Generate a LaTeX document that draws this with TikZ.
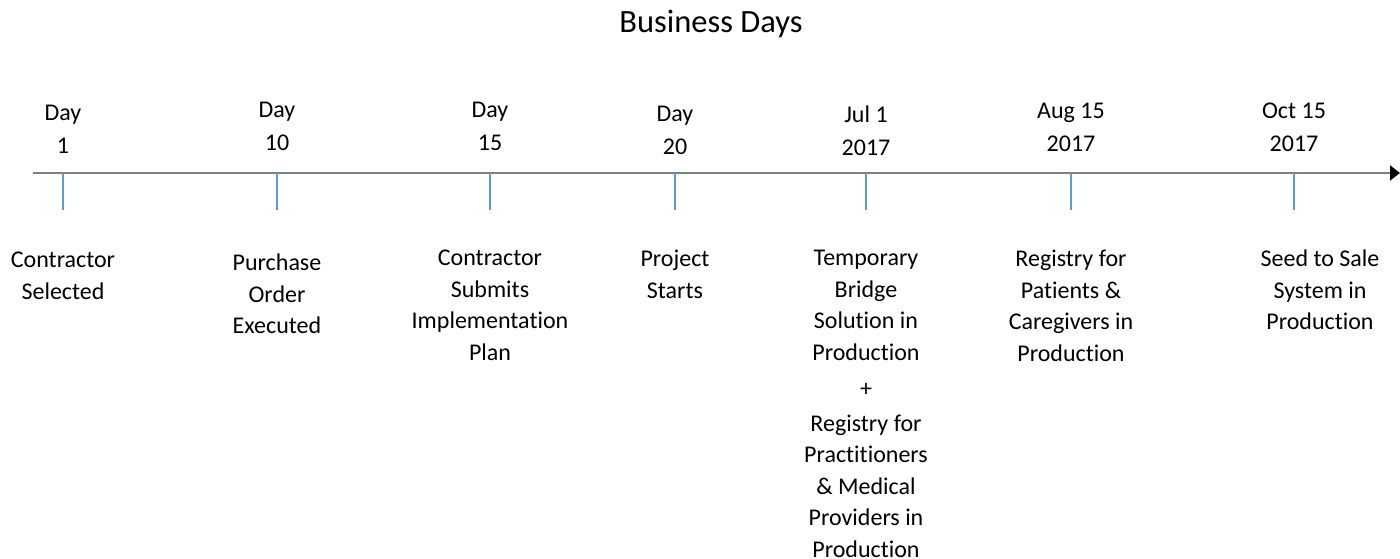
\documentclass[tikz,border=0pt]{standalone}
\usepackage{fontspec}
\setmainfont{Carlito}[Ligatures=NoCommon]
\usetikzlibrary{arrows.meta}
\definecolor{axis-gray}{HTML}{808080}
\definecolor{tick-blue}{HTML}{5B9BD5}
\tikzset{
  datelabel/.style={align=center, inner sep=0pt, anchor=north, font=\fontsize{24}{33}\selectfont},
  eventlabel/.style={align=center, inner sep=0pt, anchor=north, font=\fontsize{24}{31.5}\selectfont},
  tickmark/.style={line width=2pt, color=tick-blue}
}

\begin{document}
\begin{tikzpicture}[x=1pt,y=-1pt]
\useasboundingbox (0,0) rectangle (1400,559);
\node[anchor=north, inner sep=0pt, font=\fontsize{32.5}{38}\selectfont] (title) at (711,10) {Business Days};
% time axis
\coordinate (axis-start) at (33,173);
\coordinate (axis-end) at (1400,173);
\draw[line width=2pt, color=axis-gray, -{Triangle[length=10pt,width=15pt,color=black]}] (axis-start) -- (axis-end);
\draw[tickmark] (63,173) -- (63,210);
\draw[tickmark] (277,173) -- (277,210);
\draw[tickmark] (490,173) -- (490,210);
\draw[tickmark] (675,173) -- (675,210);
\draw[tickmark] (866,173) -- (866,210);
\draw[tickmark] (1071,173) -- (1071,210);
\draw[tickmark] (1294,173) -- (1294,210);
% dates
\node[datelabel] (day1) at (63,105) {Day\\1};
\node[datelabel] (day10) at (277,102) {Day\\10};
\node[datelabel] (day15) at (490,102) {Day\\15};
\node[datelabel] (day20) at (675,106) {Day\\20};
\node[datelabel] (jul1) at (866,106) {Jul 1\\2017};
\node[datelabel] (aug15) at (1071,103) {Aug 15\\2017};
\node[datelabel] (oct15) at (1294,103) {Oct 15\\2017};
% events
\node[eventlabel] (selected) at (63,252) {Contractor\\Selected};
\node[eventlabel] (order) at (277,254) {Purchase\\Order\\Executed};
\node[eventlabel] (plan) at (490,250) {Contractor\\Submits\\Implementation\\Plan};
\node[eventlabel] (starts) at (675,250) {Project\\Starts};
\node[eventlabel] (bridge) at (866,250) {Temporary\\Bridge\\Solution in\\Production\\[5pt]+\\[3pt]Registry for\\Practitioners\\\& Medical\\Providers in\\Production};
\node[eventlabel] (patients) at (1071,250) {Registry for\\Patients \&\\Caregivers in\\Production};
\node[eventlabel] (seed) at (1320,250) {Seed to Sale\\System in\\Production};
%\draw[tickmark] (1320,173) -- (1320,210);
\end{tikzpicture}
\end{document}
